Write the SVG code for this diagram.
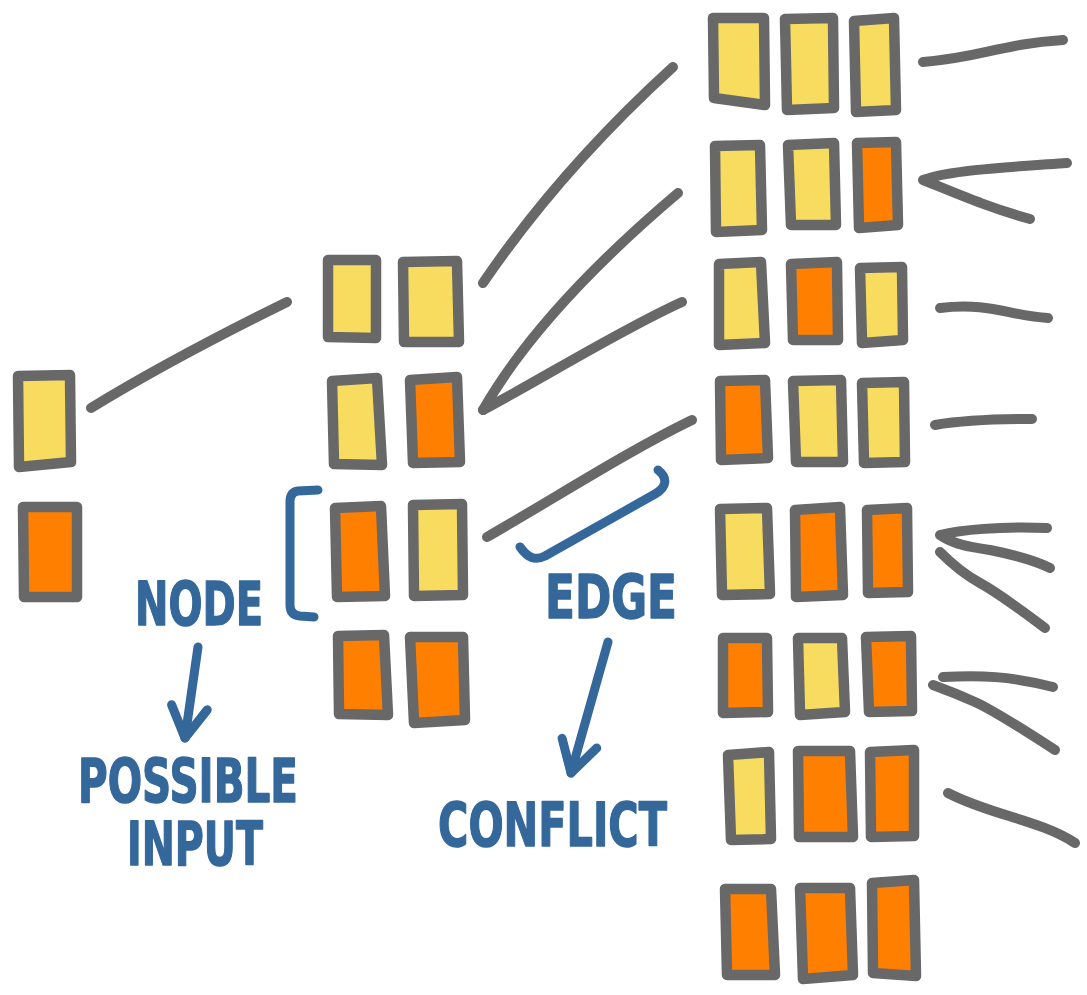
<svg xmlns="http://www.w3.org/2000/svg" width="1087" height="995" viewBox="0 0 1087 995">
<style>
.box{stroke:#686868;stroke-width:10.5;stroke-linejoin:round}
.y{fill:#F7DC60}
.o{fill:#FF7F00}
.edge{fill:none;stroke:#686868;stroke-width:10;stroke-linecap:round;stroke-linejoin:round}
.ann{fill:none;stroke:#34679A;stroke-width:9;stroke-linecap:round;stroke-linejoin:round}
.lbl{fill:#34679A;stroke:#34679A;stroke-width:1.5;stroke-linejoin:round;font-family:"DejaVu Sans","Liberation Sans",sans-serif;font-weight:bold;font-size:60px}
</style>
<defs>
<marker id="ah" markerUnits="userSpaceOnUse" viewBox="-40 -25 50 50" refX="0" refY="0" markerWidth="50" markerHeight="50" orient="auto" overflow="visible">
<path d="M-31,-18 L0,0 L-31,18" fill="none" stroke="#34679A" stroke-width="9" stroke-linecap="round" stroke-linejoin="round"/>
</marker>
</defs>
<rect width="1087" height="995" fill="#fff"/>
<g id="connectors">
<path class="edge" d="M91,408 C150,372 220,335 287,302"/>
<path class="edge" d="M483,283 Q560,170 673,67"/>
<path class="edge" d="M483,410 Q540,310 678,193"/>
<path class="edge" d="M483,410 C540,380 620,330 682,302"/>
<path class="edge" d="M487,537 C560,495 630,450 692,420"/>
<path class="edge" d="M923,62 C980,58 1000,44 1063,40"/>
<path class="edge" d="M1067,163 C1010,167 950,170 923,180 C960,195 990,208 1030,219"/>
<path class="edge" d="M940,308 C990,302 1010,316 1048,318"/>
<path class="edge" d="M935,425 C965,420 1000,419 1032,419"/>
<path class="edge" d="M1047,528 C1000,526 960,530 940,535 C955,545 970,547 990,550 C1020,556 1040,563 1050,568"/>
<path class="edge" d="M940,552 Q960,572 980,583 T1045,628"/>
<path class="edge" d="M943,677 C980,675 1010,676 1053,687"/>
<path class="edge" d="M933,685 Q955,693 975,702 T1055,750"/>
<path class="edge" d="M948,793 C990,815 1040,820 1075,843"/>
</g>
<g id="n1a"><path class="box y" d="M18,376 L70,375 L71,462 L19,467 Z"/></g>
<g id="n1b"><path class="box o" d="M23,507 L77,507 L77,597 L24,597 Z"/></g>
<g id="n2r1"><path class="box y" d="M328,260 L376,260 L376,338 L328,337 Z"/><path class="box y" d="M403,262 L457,261 L459,342 L404,342 Z"/></g>
<g id="n2r2"><path class="box y" d="M332,381 L377,378 L382,465 L334,464 Z"/><path class="box o" d="M410,380 L457,377 L460,462 L413,463 Z"/></g>
<g id="n2r3"><path class="box o" d="M335,508 L381,506 L385,596 L337,597 Z"/><path class="box y" d="M413,505 L462,504 L463,595 L414,596 Z"/></g>
<g id="n2r4"><path class="box o" d="M338,636 L384,635 L388,715 L339,714 Z"/><path class="box o" d="M410,637 L463,637 L465,720 L414,723 Z"/></g>
<g id="n3r1"><path class="box y" d="M713,18 L764,18 L765,105 L714,98 Z"/><path class="box y" d="M785,19 L833,18 L834,108 L787,110 Z"/><path class="box y" d="M854,21 L894,18 L896,110 L856,112 Z"/></g>
<g id="n3r2"><path class="box y" d="M715,146 L760,145 L762,230 L716,232 Z"/><path class="box y" d="M788,145 L834,143 L836,225 L791,225 Z"/><path class="box o" d="M857,143 L896,142 L898,225 L859,228 Z"/></g>
<g id="n3r3"><path class="box y" d="M719,264 L761,262 L765,343 L719,345 Z"/><path class="box o" d="M791,264 L837,262 L838,340 L793,340 Z"/><path class="box y" d="M860,268 L902,267 L903,340 L862,343 Z"/></g>
<g id="n3r4"><path class="box o" d="M720,381 L765,380 L768,458 L721,460 Z"/><path class="box y" d="M793,381 L841,380 L843,462 L796,462 Z"/><path class="box y" d="M862,383 L904,382 L905,462 L864,463 Z"/></g>
<g id="n3r5"><path class="box y" d="M720,509 L767,508 L770,594 L722,595 Z"/><path class="box o" d="M795,510 L840,507 L843,595 L796,597 Z"/><path class="box o" d="M867,510 L907,508 L908,592 L868,593 Z"/></g>
<g id="n3r6"><path class="box o" d="M723,638 L767,638 L768,712 L723,713 Z"/><path class="box y" d="M798,638 L842,638 L845,712 L800,715 Z"/><path class="box o" d="M866,637 L911,636 L912,711 L869,712 Z"/></g>
<g id="n3r7"><path class="box y" d="M728,755 L769,752 L771,839 L731,840 Z"/><path class="box o" d="M798,751 L850,751 L853,837 L799,837 Z"/><path class="box o" d="M870,752 L914,750 L914,836 L871,837 Z"/></g>
<g id="n3r8"><path class="box o" d="M725,889 L771,889 L775,975 L727,975 Z"/><path class="box o" d="M800,888 L850,888 L853,975 L803,979 Z"/><path class="box o" d="M872,883 L914,880 L916,976 L873,973 Z"/></g>
<g id="annotations">
<path class="ann" d="M318,490 L298,491 Q290,492 290,502 L290,605 Q290,615 300,616 L314,617"/>
<path class="ann" d="M658,470 C668,478 667,487 655,494 L545,556 C535,561 528,558 520,547"/>
<path class="ann" d="M198,647 L185,738" marker-end="url(#ah)"/>
<path class="ann" d="M608,642 L571,773" marker-end="url(#ah)"/>
<text class="lbl" x="135" y="625" textLength="128" lengthAdjust="spacingAndGlyphs">NODE</text>
<text class="lbl" x="78" y="802" textLength="220" lengthAdjust="spacingAndGlyphs">POSSIBLE</text>
<text class="lbl" x="127" y="865" textLength="136" lengthAdjust="spacingAndGlyphs">INPUT</text>
<text class="lbl" x="545" y="618" textLength="132" lengthAdjust="spacingAndGlyphs">EDGE</text>
<text class="lbl" x="438" y="846" textLength="229" lengthAdjust="spacingAndGlyphs">CONFLICT</text>
</g>
</svg>
